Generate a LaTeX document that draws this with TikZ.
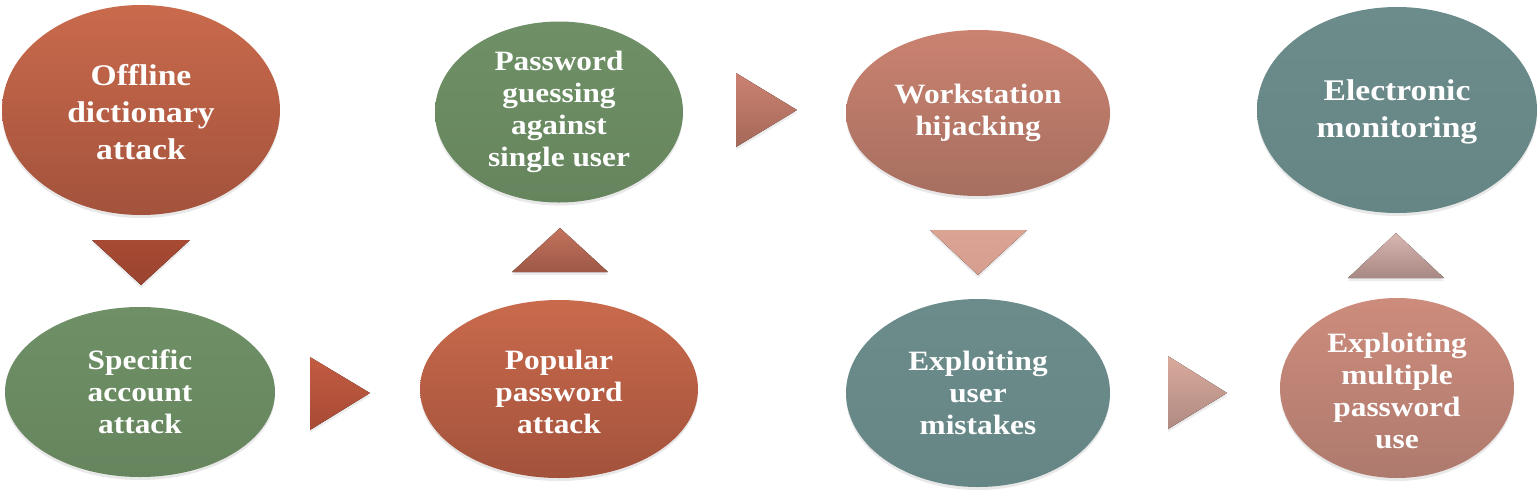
\documentclass[tikz,border=0pt]{standalone}
\usepackage{fontspec}
\setmainfont{Liberation Serif}[FakeStretch=1.12]
\usetikzlibrary{shapes.geometric,shadows}
\definecolor{redT}{HTML}{C96A4C}
\definecolor{redB}{HTML}{A3523C}
\definecolor{grnT}{HTML}{6F9066}
\definecolor{grnB}{HTML}{66855E}
\definecolor{tealT}{HTML}{6C8C8C}
\definecolor{tealB}{HTML}{668585}
\definecolor{salT}{HTML}{CB8270}
\definecolor{salB}{HTML}{A66F60}
\definecolor{pinkT}{HTML}{CD8C7C}
\definecolor{pinkB}{HTML}{AE7A6E}
\definecolor{aT}{HTML}{A84A33}\definecolor{aB}{HTML}{9A4430}
\definecolor{bT}{HTML}{C25C42}\definecolor{bB}{HTML}{A84A35}
\definecolor{cT}{HTML}{C2735C}\definecolor{cB}{HTML}{9E5846}
\definecolor{dT}{HTML}{CC8272}\definecolor{dB}{HTML}{A46858}
\definecolor{fT}{HTML}{DAA393}\definecolor{fB}{HTML}{D69E8E}
\definecolor{gT}{HTML}{D9AA9C}\definecolor{gB}{HTML}{B08A82}
\definecolor{hT}{HTML}{D8B6B2}\definecolor{hB}{HTML}{A88884}
\tikzset{
  ell/.style={ellipse, inner sep=0pt, draw=none,
    drop shadow={opacity=0.18, shadow xshift=0pt, shadow yshift=-3pt}},
  lbl/.style={text=white, align=center, font=\bfseries\fontsize{28}{32}\selectfont},
  lblbig/.style={text=white, align=center, font=\bfseries\fontsize{30}{37}\selectfont},
  tri/.style={draw=none, drop shadow={opacity=0.15, shadow xshift=0pt, shadow yshift=-3pt}}
}
\begin{document}
\begin{tikzpicture}[x=1pt,y=-1pt]
\useasboundingbox (0,0) rectangle (1540,496);
% ellipses
\node[ell, minimum width=278pt, minimum height=210pt, top color=redT, bottom color=redB] (e1) at (141,110) {};
\node[lblbig] (t1) at (141,112) {Offline\\dictionary\\attack};
\node[ell, minimum width=270pt, minimum height=170pt, top color=grnT, bottom color=grnB] (e2) at (140,392) {};
\node[lbl] (t2) at (e2) {Specific\\account\\attack};
\node[ell, minimum width=248pt, minimum height=181pt, top color=grnT, bottom color=grnB] (e3) at (559,112) {};
\node[lbl] (t3) at (e3) {Password\\guessing\\against\\single user};
\node[ell, minimum width=278pt, minimum height=178pt, top color=redT, bottom color=redB] (e4) at (559,389) {};
\node[lbl] (t4) at (559,392) {Popular\\password\\attack};
\node[ell, minimum width=264pt, minimum height=166pt, top color=salT, bottom color=salB] (e5) at (978,113) {};
\node[lbl] (t5) at (e5) {Workstation\\hijacking};
\node[ell, minimum width=264pt, minimum height=188pt, top color=tealT, bottom color=tealB] (e6) at (978,393) {};
\node[lbl] (t6) at (e6) {Exploiting\\user\\mistakes};
\node[ell, minimum width=280pt, minimum height=206pt, top color=tealT, bottom color=tealB] (e7) at (1397,110) {};
\node[lblbig] (t7) at (1397,112) {Electronic\\monitoring};
\node[ell, minimum width=234pt, minimum height=180pt, top color=pinkT, bottom color=pinkB] (e8) at (1397,388) {};
\node[lbl] (t8) at (1397,391) {Exploiting\\multiple\\password\\use};
% triangles
\fill[tri, top color=aT, bottom color=aB] (92,240) -- (190,240) -- (141,285) -- cycle;
\fill[tri, top color=bT, bottom color=bB] (310,357) -- (310,430) -- (370,393) -- cycle;
\fill[tri, top color=cT, bottom color=cB] (512,272) -- (608,272) -- (560,228) -- cycle;
\fill[tri, top color=dT, bottom color=dB] (736,73) -- (736,147) -- (797,110) -- cycle;
\fill[tri, top color=fT, bottom color=fB] (930,230) -- (1027,230) -- (978,275) -- cycle;
\fill[tri, top color=gT, bottom color=gB] (1168,356) -- (1168,429) -- (1227,393) -- cycle;
\fill[tri, top color=hT, bottom color=hB] (1348,278) -- (1444,278) -- (1396,233) -- cycle;
\end{tikzpicture}
\end{document}
